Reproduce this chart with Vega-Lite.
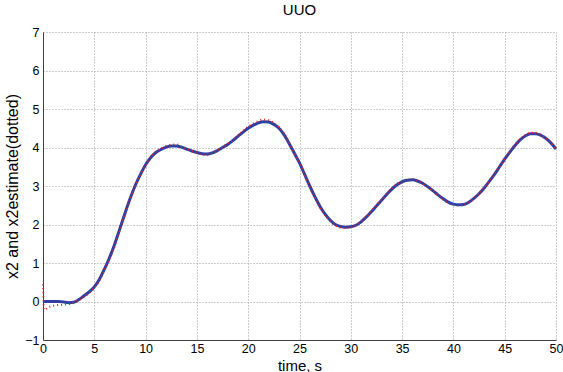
{
  "$schema": "https://vega.github.io/schema/vega-lite/v6.json",
  "width": 513,
  "height": 308,
  "autosize": {"type": "none"},
  "padding": {"left": 43, "top": 32, "right": 7, "bottom": 32},
  "background": "white",
  "title": {"text": "UUO", "font": "Liberation Sans", "fontSize": 15, "fontWeight": "normal", "color": "#000", "offset": 8},
  "config": {
    "view": {"stroke": null},
    "axis": {
      "domainColor": "#404040", "domainWidth": 1,
      "gridColor": "#9a9a9a", "gridDash": [1, 2], "gridWidth": 1,
      "ticks": false,
      "labelFont": "Liberation Sans", "labelFontSize": 12.5, "labelColor": "#000",
      "titleFont": "Liberation Sans", "titleFontWeight": "normal", "titleFontSize": 16, "titleColor": "#000"
    }
  },
  "datasets": {
    "x2": [
      {"t":0,"v":0},{"t":0.5,"v":0},{"t":1,"v":0},{"t":1.5,"v":0},{"t":2,"v":-0.01},{"t":2.5,"v":-0.03},{"t":3,"v":-0.02},{"t":3.5,"v":0.05},{"t":4,"v":0.15},{"t":4.5,"v":0.25},
      {"t":5,"v":0.38},{"t":5.5,"v":0.58},{"t":6,"v":0.85},{"t":6.5,"v":1.15},{"t":7,"v":1.5},{"t":7.5,"v":1.9},{"t":8,"v":2.3},{"t":8.5,"v":2.68},{"t":9,"v":3.02},{"t":9.5,"v":3.3},
      {"t":10,"v":3.55},{"t":10.5,"v":3.74},{"t":11,"v":3.87},{"t":11.5,"v":3.95},{"t":12,"v":4.01},{"t":12.5,"v":4.04},{"t":13,"v":4.04},{"t":13.5,"v":4.01},{"t":14,"v":3.96},{"t":14.5,"v":3.91},
      {"t":15,"v":3.87},{"t":15.5,"v":3.84},{"t":16,"v":3.83},{"t":16.5,"v":3.86},{"t":17,"v":3.92},{"t":17.5,"v":4.0},{"t":18,"v":4.08},{"t":18.5,"v":4.18},{"t":19,"v":4.29},{"t":19.5,"v":4.4},
      {"t":20,"v":4.5},{"t":20.5,"v":4.58},{"t":21,"v":4.64},{"t":21.5,"v":4.67},{"t":22,"v":4.66},{"t":22.5,"v":4.6},{"t":23,"v":4.5},{"t":23.5,"v":4.33},{"t":24,"v":4.1},{"t":24.5,"v":3.85},
      {"t":25,"v":3.6},{"t":25.5,"v":3.3},{"t":26,"v":3.0},{"t":26.5,"v":2.72},{"t":27,"v":2.47},{"t":27.5,"v":2.27},{"t":28,"v":2.11},{"t":28.5,"v":2.0},{"t":29,"v":1.95},{"t":29.5,"v":1.93},
      {"t":30,"v":1.94},{"t":30.5,"v":1.98},{"t":31,"v":2.07},{"t":31.5,"v":2.19},{"t":32,"v":2.33},{"t":32.5,"v":2.48},{"t":33,"v":2.63},{"t":33.5,"v":2.78},{"t":34,"v":2.92},{"t":34.5,"v":3.03},
      {"t":35,"v":3.11},{"t":35.5,"v":3.15},{"t":36,"v":3.16},{"t":36.5,"v":3.13},{"t":37,"v":3.07},{"t":37.5,"v":2.98},{"t":38,"v":2.88},{"t":38.5,"v":2.77},{"t":39,"v":2.67},{"t":39.5,"v":2.58},
      {"t":40,"v":2.53},{"t":40.5,"v":2.51},{"t":41,"v":2.52},{"t":41.5,"v":2.58},{"t":42,"v":2.68},{"t":42.5,"v":2.8},{"t":43,"v":2.95},{"t":43.5,"v":3.12},{"t":44,"v":3.3},{"t":44.5,"v":3.5},
      {"t":45,"v":3.7},{"t":45.5,"v":3.88},{"t":46,"v":4.05},{"t":46.5,"v":4.2},{"t":47,"v":4.3},{"t":47.5,"v":4.36},{"t":48,"v":4.36},{"t":48.5,"v":4.32},{"t":49,"v":4.24},{"t":49.5,"v":4.12},
      {"t":50,"v":3.96}
    ],
    "est": [
      {"t":0,"v":0.45},{"t":0.1,"v":-0.22},{"t":0.5,"v":-0.15},{"t":1,"v":-0.11},{"t":1.5,"v":-0.09},{"t":2,"v":-0.08},{"t":2.5,"v":-0.07},{"t":3,"v":-0.04},{"t":3.5,"v":0.03},{"t":4,"v":0.12},{"t":4.5,"v":0.22},
      {"t":5,"v":0.35},{"t":5.5,"v":0.55},{"t":6,"v":0.82},{"t":6.5,"v":1.1},{"t":7,"v":1.45},{"t":7.5,"v":1.86},{"t":8,"v":2.26},{"t":8.5,"v":2.66},{"t":9,"v":3.0},{"t":9.5,"v":3.29},
      {"t":10,"v":3.55},{"t":10.5,"v":3.75},{"t":11,"v":3.89},{"t":11.5,"v":3.97},{"t":12,"v":4.04},{"t":12.5,"v":4.07},{"t":13,"v":4.08},{"t":13.5,"v":4.03},{"t":14,"v":3.97},{"t":14.5,"v":3.91},
      {"t":15,"v":3.86},{"t":15.5,"v":3.82},{"t":16,"v":3.8},{"t":16.5,"v":3.85},{"t":17,"v":3.92},{"t":17.5,"v":4.01},{"t":18,"v":4.1},{"t":18.5,"v":4.2},{"t":19,"v":4.31},{"t":19.5,"v":4.43},
      {"t":20,"v":4.54},{"t":20.5,"v":4.62},{"t":21,"v":4.69},{"t":21.5,"v":4.73},{"t":22,"v":4.71},{"t":22.5,"v":4.64},{"t":23,"v":4.53},{"t":23.5,"v":4.36},{"t":24,"v":4.12},{"t":24.5,"v":3.86},
      {"t":25,"v":3.6},{"t":25.5,"v":3.29},{"t":26,"v":2.98},{"t":26.5,"v":2.7},{"t":27,"v":2.44},{"t":27.5,"v":2.24},{"t":28,"v":2.08},{"t":28.5,"v":1.97},{"t":29,"v":1.92},{"t":29.5,"v":1.91},
      {"t":30,"v":1.93},{"t":30.5,"v":1.98},{"t":31,"v":2.08},{"t":31.5,"v":2.2},{"t":32,"v":2.35},{"t":32.5,"v":2.5},{"t":33,"v":2.65},{"t":33.5,"v":2.8},{"t":34,"v":2.94},{"t":34.5,"v":3.05},
      {"t":35,"v":3.13},{"t":35.5,"v":3.17},{"t":36,"v":3.17},{"t":36.5,"v":3.14},{"t":37,"v":3.07},{"t":37.5,"v":2.97},{"t":38,"v":2.87},{"t":38.5,"v":2.76},{"t":39,"v":2.65},{"t":39.5,"v":2.56},
      {"t":40,"v":2.51},{"t":40.5,"v":2.49},{"t":41,"v":2.51},{"t":41.5,"v":2.57},{"t":42,"v":2.67},{"t":42.5,"v":2.8},{"t":43,"v":2.96},{"t":43.5,"v":3.13},{"t":44,"v":3.31},{"t":44.5,"v":3.51},
      {"t":45,"v":3.71},{"t":45.5,"v":3.9},{"t":46,"v":4.07},{"t":46.5,"v":4.22},{"t":47,"v":4.32},{"t":47.5,"v":4.38},{"t":48,"v":4.38},{"t":48.5,"v":4.34},{"t":49,"v":4.25},{"t":49.5,"v":4.13},
      {"t":50,"v":3.96}
    ]
  },
  "encoding": {
    "x": {"field": "t", "type": "quantitative",
      "scale": {"domain": [0, 50], "nice": false, "zero": false},
      "axis": {"values": [0,5,10,15,20,25,30,35,40,45,50], "title": "time, s", "labelPadding": 2, "titleBaseline": "alphabetic", "titleY": 30, "titleFontSize": 15, "labelFlush": false}},
    "y": {"field": "v", "type": "quantitative",
      "scale": {"domain": [-1, 7], "nice": false, "zero": false},
      "axis": {"values": [-1,0,1,2,3,4,5,6,7], "title": "x2 and x2estimate(dotted)", "labelPadding": 4, "titlePadding": 4, "labelFlush": false}}
  },
  "layer": [
    {"data": {"name": "x2"}, "mark": {"type": "line", "color": "#2f3fa2", "strokeWidth": 3, "interpolate": "monotone"}},
    {"data": {"name": "est"}, "mark": {"type": "line", "color": "#e3231f", "strokeWidth": 2, "strokeDash": [1, 3], "interpolate": "monotone"}}
  ]
}
